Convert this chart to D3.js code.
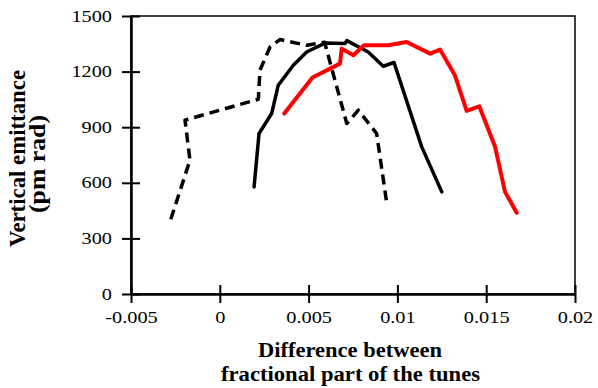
<!DOCTYPE html>
<html>
<head>
<meta charset="utf-8">
<script src="https://cdn.jsdelivr.net/npm/d3@7"></script>
<style>
  body { margin: 0; background: #fff; }
  text { font-family: "Liberation Serif", "Times New Roman", serif; }
</style>
</head>
<body>
<div id="chart"></div>
<script>
// dashed series
var dashedX = [-0.00276, -0.00168, -0.00196, 0.00217, 0.00226, 0.00283, 0.00339, 0.00489, 0.0059, 0.00715, 0.0078, 0.00883, 0.0094];
var dashedY = [403, 722, 938, 1051, 1207, 1333, 1373, 1342, 1358, 920, 992, 866, 490];
// solid black series
var blackX = [0.00193, 0.00221, 0.00292, 0.00329, 0.00414, 0.00489, 0.00592, 0.00705, 0.00715, 0.00836, 0.0092, 0.00981, 0.01137, 0.0125];
var blackY = [578, 866, 974, 1126, 1234, 1306, 1354, 1351, 1367, 1306, 1229, 1249, 794, 551];
// red series
var redX = [0.00363, 0.00522, 0.00677, 0.00686, 0.00752, 0.00812, 0.00949, 0.01052, 0.01184, 0.0124, 0.01324, 0.0139, 0.01461, 0.0155, 0.01606, 0.01672];
var redY = [974, 1168, 1243, 1324, 1288, 1342, 1342, 1360, 1297, 1319, 1180, 988, 1013, 794, 551, 438];

var xTicks = [-0.005, 0, 0.005, 0.01, 0.015, 0.02];
var xTickLabels = ["-0.005", "0", "0.005", "0.01", "0.015", "0.02"];
var yTicks = [0, 300, 600, 900, 1200, 1500];

var w = 598, h = 388;
var margin = {top: 16, right: 23, bottom: 94, left: 131};
var sx = 1.27; // text in the picture is drawn wider than it is tall

var svg = d3.select("#chart").append("svg")
  .attr("width", w)
  .attr("height", h);

var x = d3.scaleLinear().domain([-0.005, 0.02]).range([margin.left, w - margin.right]);
var y = d3.scaleLinear().domain([0, 1500]).range([h - margin.bottom, margin.top]);

// frame
svg.append("rect")
  .attr("x", x(-0.005)).attr("y", y(1500))
  .attr("width", x(0.02) - x(-0.005))
  .attr("height", y(0) - y(1500))
  .attr("fill", "none")
  .attr("stroke", "#000")
  .attr("stroke-width", 1.5);

// axes
var xAxis = d3.axisBottom(x).tickValues(xTicks)
  .tickFormat(function(d, i){ return xTickLabels[i]; })
  .tickSizeInner(9).tickSizeOuter(0).tickPadding(9);
var gx = svg.append("g").attr("transform", "translate(0," + y(0) + ")").call(xAxis);

var yAxis = d3.axisLeft(y).tickValues(yTicks)
  .tickFormat(function(d){ return String(d); })
  .tickSizeInner(9).tickSizeOuter(0).tickPadding(10);
var gy = svg.append("g").attr("transform", "translate(" + x(-0.005) + ",0)").call(yAxis);

[gx, gy].forEach(function(g){
  g.select(".domain").attr("stroke", "#000").attr("stroke-width", 2.5);
  g.selectAll(".tick line").attr("stroke", "#000").attr("stroke-width", 2);
  g.selectAll(".tick text").attr("fill", "#000").style("font-size", "16px");
});
// ticks cross the axis
gx.selectAll(".tick line").attr("y1", -9);
gy.selectAll(".tick line").attr("x1", 9);
// widen labels
gx.selectAll(".tick text").attr("transform", "scale(" + sx + ",1)");
gy.selectAll(".tick text")
  .attr("x", -19 / sx)
  .attr("transform", "scale(" + sx + ",1)");

// series
function toPts(xs, ys){ return xs.map(function(v, i){ return [v, ys[i]]; }); }
var line = d3.line().x(function(d){ return x(d[0]); }).y(function(d){ return y(d[1]); });

svg.append("path").datum(toPts(dashedX, dashedY))
  .attr("d", line).attr("fill", "none")
  .attr("stroke", "#000").attr("stroke-width", 3.5)
  .attr("stroke-dasharray", "10,6")
  .attr("stroke-linejoin", "round");

svg.append("path").datum(toPts(blackX, blackY))
  .attr("d", line).attr("fill", "none")
  .attr("stroke", "#000").attr("stroke-width", 3.5)
  .attr("stroke-linejoin", "round").attr("stroke-linecap", "round");

svg.append("path").datum(toPts(redX, redY))
  .attr("d", line).attr("fill", "none")
  .attr("stroke", "#ff0000").attr("stroke-width", 4)
  .attr("stroke-linejoin", "round").attr("stroke-linecap", "round");

// axis titles
svg.append("text").attr("x", 350).attr("y", 357)
  .attr("text-anchor", "middle").style("font-size", "20px").style("font-weight", "bold")
  .attr("textLength", 184).attr("lengthAdjust", "spacingAndGlyphs")
  .text("Difference between");
svg.append("text").attr("x", 350.5).attr("y", 381)
  .attr("text-anchor", "middle").style("font-size", "20px").style("font-weight", "bold")
  .attr("textLength", 259).attr("lengthAdjust", "spacingAndGlyphs")
  .text("fractional part of the tunes");

svg.append("text").attr("transform", "translate(25,158.5) scale(" + sx + ",1) rotate(-90)")
  .attr("text-anchor", "middle").style("font-size", "18px").style("font-weight", "bold")
  .attr("textLength", 177).attr("lengthAdjust", "spacingAndGlyphs")
  .text("Vertical emittance");
svg.append("text").attr("transform", "translate(45,164) scale(" + sx + ",1) rotate(-90)")
  .attr("text-anchor", "middle").style("font-size", "18px").style("font-weight", "bold")
  .attr("textLength", 98).attr("lengthAdjust", "spacingAndGlyphs")
  .text("(pm rad)");
</script>
</body>
</html>
